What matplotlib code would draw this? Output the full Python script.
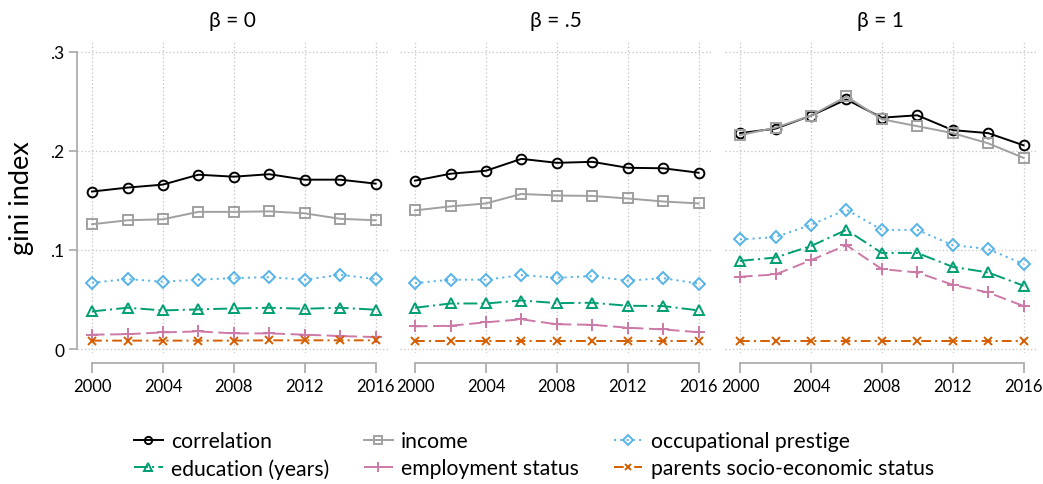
import numpy as np
import matplotlib
matplotlib.use("Agg")
from matplotlib import pyplot as plt

plt.rcParams['font.family'] = ['Lato', 'DejaVu Sans']
plt.rcParams['lines.scale_dashes'] = False

years = [2000, 2002, 2004, 2006, 2008, 2010, 2012, 2014, 2016]
panel_titles = ['β = 0', 'β = .5', 'β = 1']

# values per panel (beta = 0, .5, 1)
correlation = [
    [.159, .163, .166, .176, .174, .1765, .171, .171, .167],
    [.170, .177, .180, .192, .188, .189, .183, .1825, .178],
    [.218, .2225, .2356, .252, .2336, .236, .221, .218, .2057],
]
income = [
    [.126, .130, .131, .1385, .1385, .139, .137, .1315, .130],
    [.140, .144, .147, .1566, .155, .1546, .152, .149, .147],
    [.216, .2235, .2356, .255, .232, .225, .218, .2077, .193],
]
occupational = [
    [.067, .0706, .068, .070, .0716, .0726, .070, .075, .0706],
    [.0666, .070, .070, .0746, .072, .0736, .069, .0716, .066],
    [.1106, .113, .1254, .1408, .1203, .1203, .1049, .101, .0857],
]
education = [
    [.038, .0417, .039, .040, .041, .0417, .0407, .0417, .0397],
    [.0417, .046, .046, .049, .0464, .0467, .0437, .0434, .039],
    [.089, .0924, .104, .1203, .097, .097, .083, .0773, .0639],
]
employment = [
    [.0145, .015, .0168, .0178, .0158, .0158, .0145, .0131, .0121],
    [.0229, .0235, .027, .030, .025, .0245, .0215, .0198, .017],
    [.073, .0753, .0897, .1049, .0807, .0773, .0649, .0571, .0434],
]
parents = [
    [.0085, .0085, .0085, .0085, .0085, .0088, .0088, .0088, .0088],
    [.0083, .0083, .0083, .0083, .0083, .0083, .0083, .0083, .0083],
    [.0081, .0081, .0081, .0081, .0081, .0081, .0081, .0081, .0081],
]

series = [
    ('correlation', correlation, dict(color='black', marker='o', ms=7, ls='-')),
    ('income', income, dict(color='#a0a0a0', marker='s', ms=7, ls='-')),
    ('occupational prestige', occupational, dict(color='#56B4E9', marker='D', ms=6.5, ls=(0, (1.5, 3)))),
    ('education (years)', education, dict(color='#009E73', marker='^', ms=7.5, ls=(0, (10, 3, 1.5, 3)))),
    ('employment status', employment, dict(color='#CC79A7', marker='+', ms=9, ls=(0, (9, 4)))),
    ('parents socio-economic status', parents, dict(color='#D55E00', marker='x', ms=6, ls=(0, (7, 3, 1.5, 3)))),
]

fig = plt.figure(figsize=(10.43, 4.85), dpi=100)
lefts = [77, 400, 725]
axes = []
for i, lx in enumerate(lefts):
    ax = fig.add_axes([lx / 1043, 1 - 354 / 485, 311 / 1043, 312 / 485])
    axes.append(ax)
    for name, vals, st in series:
        ax.plot(years, vals[i], label=name, color=st['color'], marker=st['marker'],
                markersize=st['ms'], linestyle=st['ls'], linewidth=1.4,
                markerfacecolor='none', markeredgewidth=1.4, zorder=3)
    ax.set_xlim(1999.15, 2016.7)
    ax.set_ylim(-0.004, 0.311)
    ax.set_xticks([2000, 2004, 2008, 2012, 2016])
    ax.set_yticks([0, .1, .2, .3])
    ax.grid(True, linestyle=':', color='#c8c8c8', linewidth=0.9, zorder=0)
    ax.set_title(panel_titles[i], fontsize=15, pad=11)
    for s in ['top', 'right']:
        ax.spines[s].set_visible(False)
    ax.spines['bottom'].set_position(('outward', 7))
    ax.spines['bottom'].set_bounds(2000, 2016)
    ax.spines['bottom'].set_color('#a8a8a8')
    ax.spines['bottom'].set_linewidth(1.2)
    ax.tick_params(axis='x', direction='out', length=7, width=1.2, color='#a8a8a8',
                   labelsize=12, pad=4)
    if i == 0:
        ax.spines['left'].set_bounds(0, .3)
        ax.spines['left'].set_color('#a8a8a8')
        ax.spines['left'].set_linewidth(1.2)
        ax.set_yticklabels(['0', '.1', '.2', '.3'])
        ax.tick_params(axis='y', direction='out', length=6, width=1.2, color='#a8a8a8',
                       labelsize=12.5, pad=3)
        ax.set_ylabel('gini index', fontsize=19.5, labelpad=12)
    else:
        ax.spines['left'].set_visible(False)
        ax.tick_params(axis='y', length=0, labelleft=False)

h, l = axes[0].get_legend_handles_labels()
order = [0, 3, 1, 4, 2, 5]
leg = fig.legend([h[k] for k in order], [l[k] for k in order],
                 loc='center', bbox_to_anchor=(0.512, 0.06), ncol=3,
                 fontsize=15.2, frameon=False, handlelength=1.35, handletextpad=0.4,
                 columnspacing=1.65, labelspacing=0.32, markerscale=0.75)

fig.savefig('out.png', dpi=100)
